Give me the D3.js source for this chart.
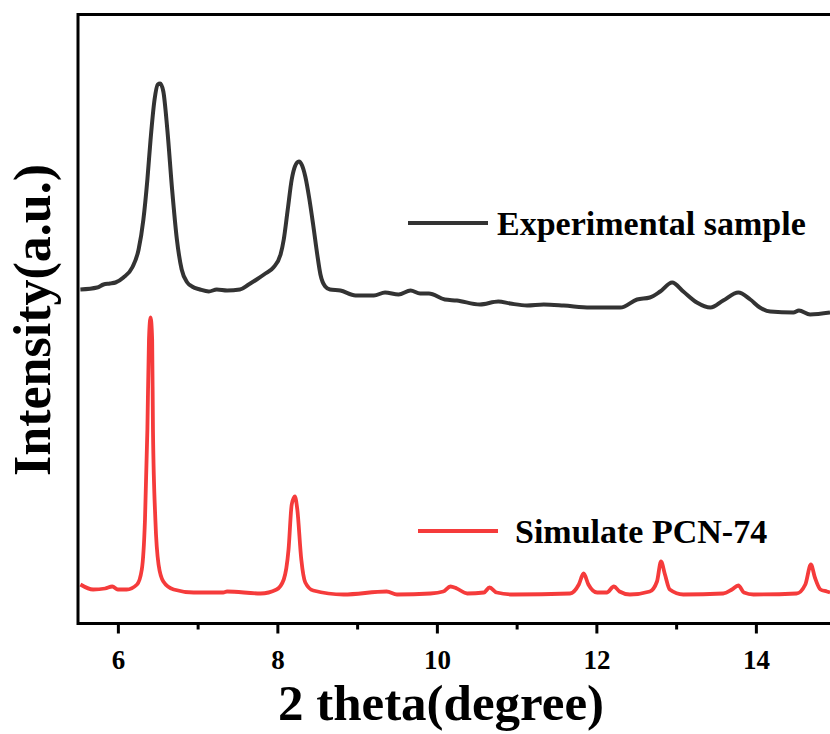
<!DOCTYPE html>
<html>
<head>
<meta charset="utf-8">
<script src="https://cdn.jsdelivr.net/npm/d3@7"></script>
<style>
  html, body { margin: 0; padding: 0; background: #fff; }
  svg { display: block; }
  text { font-family: "Liberation Serif", "Times New Roman", serif; font-weight: bold; fill: #000; }
</style>
</head>
<body>
<svg id="chart" width="830" height="734"></svg>
<script>
// 2-theta positions (degrees) and intensities (a.u.) of the measured pattern
const expTheta = [5.53, 5.74, 5.82, 5.90, 5.97, 6.07, 6.18, 6.26, 6.32, 6.37, 6.41, 6.46, 6.50, 6.53, 6.57, 6.62, 6.68, 6.74, 6.80, 6.87, 6.93, 7.03, 7.14, 7.24, 7.37, 7.53, 7.64, 7.74, 7.85, 7.95, 8.04, 8.08, 8.13, 8.18, 8.22, 8.27, 8.31, 8.35, 8.40, 8.45, 8.50, 8.54, 8.60, 8.66, 8.79, 8.98, 9.21, 9.35, 9.52, 9.67, 9.79, 9.90, 10.10, 10.25, 10.54, 10.77, 10.92, 11.13, 11.34, 11.59, 11.92, 12.30, 12.51, 12.67, 12.80, 12.95, 13.09, 13.26, 13.43, 13.59, 13.78, 13.93, 14.05, 14.18, 14.47, 14.54, 14.68, 14.93];
const expIntensity = [334, 336, 339, 340, 341, 346, 356, 374, 404, 444, 484, 524, 539, 540, 532, 494, 434, 384, 354, 341, 337, 334, 332, 334, 333, 334, 339, 344, 350, 356, 369, 384, 414, 444, 457, 462, 458, 447, 425, 398, 369, 349, 337, 334, 333, 328, 328, 331, 329, 333, 330, 330, 324, 323, 319, 322, 320, 318, 319, 318, 316, 316, 324, 326, 332, 341, 332, 321, 316, 323, 331, 324, 316, 312, 311, 313, 309, 311];

// simulated pattern of PCN-74
const simTheta = [5.53, 5.69, 5.84, 5.93, 6.00, 6.11, 6.24, 6.30, 6.34, 6.37, 6.39, 6.41, 6.43, 6.44, 6.47, 6.51, 6.57, 6.70, 6.95, 7.32, 7.37, 7.79, 7.99, 8.08, 8.14, 8.18, 8.22, 8.25, 8.30, 8.35, 8.45, 8.83, 9.37, 9.50, 9.92, 10.08, 10.17, 10.25, 10.38, 10.59, 10.66, 10.75, 10.96, 11.67, 11.78, 11.84, 11.90, 12.01, 12.13, 12.22, 12.29, 12.42, 12.67, 12.76, 12.81, 12.86, 12.92, 13.09, 13.59, 13.70, 13.78, 13.85, 13.97, 14.51, 14.62, 14.69, 14.74, 14.81, 14.89, 14.93];
const simIntensity = [39, 34, 35, 37, 34, 34, 39, 54, 104, 194, 284, 306, 284, 194, 104, 59, 42, 34, 31, 31, 32, 30, 34, 44, 74, 119, 127, 114, 64, 41, 33, 29, 32, 29, 30, 32, 37, 35, 30, 31, 36, 31, 29, 30, 39, 50, 39, 31, 31, 37, 32, 29, 32, 42, 62, 49, 34, 29, 30, 34, 38, 31, 29, 30, 39, 59, 46, 34, 32, 31];

const seriesNames = ["Experimental sample", "Simulate PCN-74"];
const seriesColors = ["#333333", "#f53b3b"];

const xTicks = [6, 8, 10, 12, 14];
const xMinorTicks = [7, 9, 11, 13];

const svg = d3.select("#chart");
const margin = { left: 78, top: 14.5, bottom: 623.5 };

const x = d3.scaleLinear().domain([5.5, 15]).range([margin.left, margin.left + 9.5 * 79.75]);
const y = d3.scaleLinear().domain([0, 609]).range([margin.bottom, margin.top]);

const line = d3.line()
  .x(d => x(d[0]))
  .y(d => y(d[1]))
  .curve(d3.curveMonotoneX);

// plot area clip
svg.append("clipPath").attr("id", "plotClip")
  .append("rect")
  .attr("x", x(5.5)).attr("y", y(609))
  .attr("width", x(15) - x(5.5)).attr("height", y(0) - y(609));

const plot = svg.append("g").attr("clip-path", "url(#plotClip)");

plot.append("path")
  .datum(d3.zip(simTheta, simIntensity))
  .attr("fill", "none")
  .attr("stroke", seriesColors[1])
  .attr("stroke-width", 3.8)
  .attr("stroke-linejoin", "round")
  .attr("d", line);

plot.append("path")
  .datum(d3.zip(expTheta, expIntensity))
  .attr("fill", "none")
  .attr("stroke", seriesColors[0])
  .attr("stroke-width", 4)
  .attr("stroke-linejoin", "round")
  .attr("d", line);

// frame
svg.append("rect")
  .attr("x", x(5.5)).attr("y", y(609))
  .attr("width", x(15) - x(5.5)).attr("height", y(0) - y(609))
  .attr("fill", "none").attr("stroke", "#000").attr("stroke-width", 3);

// bottom axis: major ticks with labels, minor ticks without
const axisMajor = d3.axisBottom(x).tickValues(xTicks).tickSize(10).tickSizeOuter(0).tickPadding(16).tickFormat(d3.format("d"));
const gMajor = svg.append("g").attr("transform", `translate(0,${y(0)})`).call(axisMajor);
gMajor.select(".domain").remove();
gMajor.selectAll("line").attr("stroke", "#000").attr("stroke-width", 3);
gMajor.selectAll("text")
  .style("font-family", '"Liberation Serif", serif')
  .style("font-weight", "bold")
  .style("font-size", "27px")
  .attr("fill", "#000");

const axisMinor = d3.axisBottom(x).tickValues(xMinorTicks).tickSize(6).tickSizeOuter(0).tickFormat("");
const gMinor = svg.append("g").attr("transform", `translate(0,${y(0)})`).call(axisMinor);
gMinor.select(".domain").remove();
gMinor.selectAll("line").attr("stroke", "#000").attr("stroke-width", 3);

// axis titles
svg.append("text")
  .attr("x", 441).attr("y", 720)
  .attr("text-anchor", "middle")
  .style("font-size", "51px")
  .text("2 theta(degree)");

svg.append("text")
  .attr("transform", "translate(50,320) rotate(-90)")
  .attr("text-anchor", "middle")
  .style("font-size", "52px")
  .text("Intensity(a.u.)");

// legend entries
const legend = [
  { x1: 408, x2: 488, y: 223, tx: 497, ty: 235 },
  { x1: 418, x2: 498, y: 531, tx: 515, ty: 543 }
];
legend.forEach((l, i) => {
  svg.append("line")
    .attr("x1", l.x1).attr("x2", l.x2).attr("y1", l.y).attr("y2", l.y)
    .attr("stroke", seriesColors[i]).attr("stroke-width", 3.8);
  svg.append("text")
    .attr("x", l.tx).attr("y", l.ty)
    .style("font-size", "34px")
    .text(seriesNames[i]);
});
</script>
</body>
</html>
